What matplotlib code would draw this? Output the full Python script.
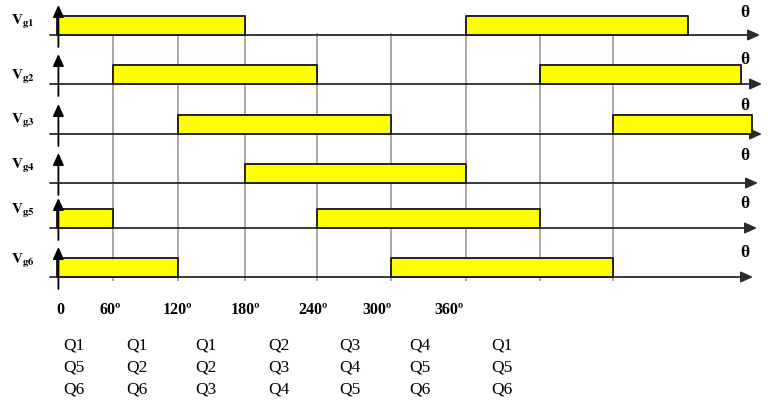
import numpy as np
import matplotlib
matplotlib.use("Agg")
import matplotlib.pyplot as plt
from matplotlib.transforms import offset_copy

# ---------------- data ----------------
gate_names = ["g1", "g2", "g3", "g4", "g5", "g6"]
# conduction intervals of each gate signal (degrees)
on_start = [[0, 360], [60, 420], [120, 480], [180], [0, 240], [0, 300]]
on_end = [[180, 540], [240, 582], [300, 591], [360], [60, 420], [120, 480]]
grid_angles = [60, 120, 180, 240, 300, 360, 420, 480]
angle_ticks = [0, 60, 120, 180, 240, 300, 360]
angle_labels = ["0", "60º", "120º", "180º", "240º", "300º", "360º"]
interval_mid = [30, 90, 150, 210, 270, 330, 390]
q_states = [["Q1", "Q5", "Q6"], ["Q1", "Q2", "Q6"], ["Q1", "Q2", "Q3"],
            ["Q2", "Q3", "Q4"], ["Q3", "Q4", "Q5"], ["Q4", "Q5", "Q6"],
            ["Q1", "Q5", "Q6"]]

# ---------------- layout (hand-drawn, uneven spacing) ----------------
W, H = 774, 408
anchor_deg = np.arange(0, 541, 60)
anchor_px = np.array([57, 113, 178, 245, 317, 391, 466, 540, 613, 688], float)
ext_deg = np.concatenate([[-2000.0], anchor_deg, [3000.0]])
ext_px = np.concatenate([[57 - 2000 * 56 / 60], anchor_px, [688 + 2460 * 75 / 60]])


def fwd(d):
    return np.interp(d, ext_deg, ext_px)


def inv(p):
    return np.interp(p, ext_px, ext_deg)


row_base = [35, 84, 134, 183, 228, 277]       # pixel rows of the time axes
label_y = [22, 77, 121, 166, 211, 261]
theta_y = [13, 60, 106, 156, 204, 253]
axis_end = [760, 762, 762, 758, 757, 753]
bar_h = 19
angle_shift = [3, -3, -1, 0, -4, -14, -17]     # px nudges of the hand placed labels
q_shift = [-11, -9, -6, -2, -4, -9, -1]

plt.rcParams["mathtext.fontset"] = "stix"
fig = plt.figure(figsize=(W / 100, H / 100), dpi=100)
ax = fig.add_axes([0, 0, 1, 1])
ax.set_xscale("function", functions=(fwd, inv))
ax.set_xlim(inv(0), inv(W))
ax.set_ylim(H, 0)
ax.axis("off")

line_col = "#2b2b2b"
blend = ax.get_yaxis_transform()  # x in axes fraction, y in data (px)

# grid lines
ax.vlines(grid_angles, 33, 281, color="#a9a9a9", lw=1.4, zorder=1)

for i, name in enumerate(gate_names):
    yb = row_base[i]
    # horizontal time axis with arrow
    ax.annotate("", xy=(axis_end[i] / W, yb), xytext=(50 / W, yb),
                xycoords=blend, textcoords=blend,
                arrowprops=dict(arrowstyle="-|>,head_length=0.55,head_width=0.25",
                                mutation_scale=13, lw=1.3, color=line_col,
                                shrinkA=0, shrinkB=0), zorder=2)
    # vertical axis with arrow
    ax.annotate("", xy=(1.5, yb - 30), xytext=(1.5, yb + 12),
                xycoords="data", textcoords="data",
                arrowprops=dict(arrowstyle="-|>,head_length=0.55,head_width=0.25",
                                mutation_scale=13, lw=1.3, color="black",
                                shrinkA=0, shrinkB=0), zorder=4)
    # conduction bars
    segs = [(s, e - s) for s, e in zip(on_start[i], on_end[i])]
    ax.broken_barh(segs, (yb - bar_h, bar_h), facecolor="#ffff00",
                   edgecolor="#222222", lw=1.4, zorder=3)
    # labels
    ax.text(11 / W, label_y[i], r"$\mathbf{V}_{\mathbf{%s}}$" % name,
            transform=blend, fontsize=11, ha="left", va="center")
    ax.text(745 / W, theta_y[i], "θ", transform=blend, fontsize=12.5,
            family="Liberation Serif", fontweight="bold", ha="center", va="center")

# angle labels
for a, lab, dx in zip(angle_ticks, angle_labels, angle_shift):
    tr = offset_copy(ax.transData, fig=fig, x=dx, y=0, units="dots")
    ax.text(a, 310, lab, transform=tr, fontsize=11.5, fontweight="bold",
            family="Liberation Serif", ha="center", va="center")

# switch state labels
q_rows_y = [345, 367, 389]
for m, states, dx in zip(interval_mid, q_states, q_shift):
    tr = offset_copy(ax.transData, fig=fig, x=dx, y=0, units="dots")
    for k, q in enumerate(states):
        ax.text(m, q_rows_y[k], q, transform=tr, fontsize=12.5,
                family="Liberation Serif", ha="center", va="center")

fig.savefig("out.png", dpi=100)
